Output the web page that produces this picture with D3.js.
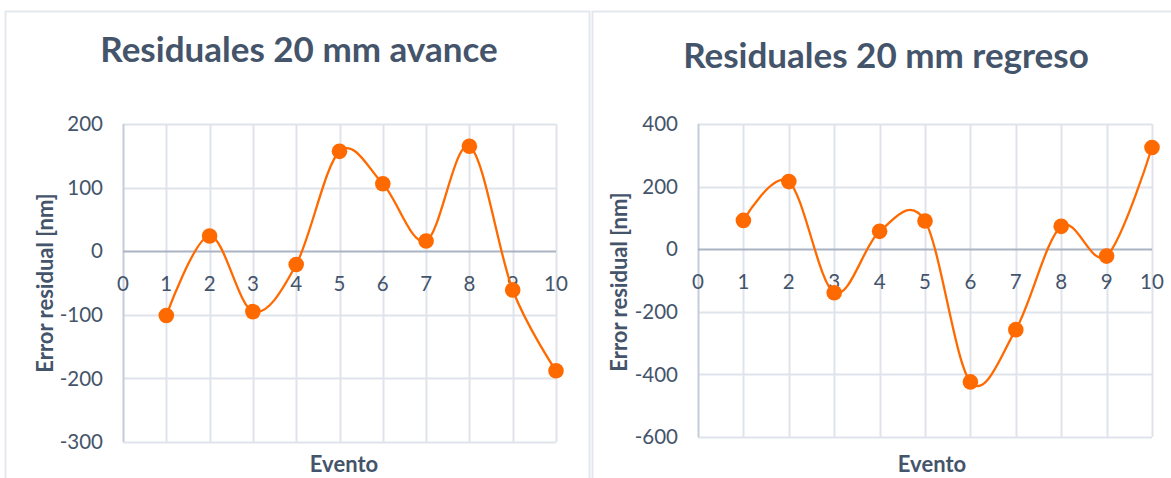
<!DOCTYPE html>
<html>
<head>
<meta charset="utf-8">
<script src="https://cdn.jsdelivr.net/npm/d3@7"></script>
<style>
  html, body { margin: 0; padding: 0; background: #ffffff; }
  svg { display: block; }
</style>
</head>
<body>
<svg id="chart" width="1171" height="478"></svg>
<script>
// ---- Data ----
const eventos = [1, 2, 3, 4, 5, 6, 7, 8, 9, 10];
const xTicks = [0, 1, 2, 3, 4, 5, 6, 7, 8, 9, 10];

const avanceTitle = "Residuales 20 mm avance";
const avanceValues = [-101, 24, -95, -21, 157, 106, 16, 165, -61, -188];
const avanceYTicks = [-300, -200, -100, 0, 100, 200];

const regresoTitle = "Residuales 20 mm regreso";
const regresoValues = [92, 216, -139, 57, 90, -424, -257, 73, -22, 325];
const regresoYTicks = [-600, -400, -200, 0, 200, 400];

const xAxisTitle = "Evento";
const yAxisTitle = "Error residual [nm]";

// ---- Styles ----
const textColor = "#44546a";
const gridColor = "#dfe4ec";
const zeroColor = "#aab4c3";
const lineColor = "#ff6a00";
const panelBorder = "#e3e8ef";
const fontFamily = "Lato, 'Open Sans', sans-serif";

const svg = d3.select("#chart");

function drawChart(cfg) {
  const g = svg.append("g");

  // panel
  g.append("rect")
    .attr("x", cfg.panel[0] + 0.5).attr("y", cfg.panel[1] + 0.5)
    .attr("width", cfg.panel[2]).attr("height", cfg.panel[3])
    .attr("fill", "#fff").attr("stroke", panelBorder).attr("stroke-width", 2);

  const x = d3.scaleLinear().domain([0, 10]).range([cfg.plot.left, cfg.plot.right]);
  const y = d3.scaleLinear().domain([cfg.yTicks[0], cfg.yTicks[cfg.yTicks.length - 1]])
    .range([cfg.plot.bottom, cfg.plot.top]);

  // horizontal grid
  g.append("g").selectAll("line").data(cfg.yTicks.filter(d => d !== 0)).join("line")
    .attr("x1", x(0)).attr("x2", x(10))
    .attr("y1", d => Math.round(y(d)) + 0.5).attr("y2", d => Math.round(y(d)) + 0.5)
    .attr("stroke", gridColor).attr("stroke-width", 2);

  // vertical grid
  g.append("g").selectAll("line").data(xTicks).join("line")
    .attr("x1", d => Math.round(x(d)) + 0.5).attr("x2", d => Math.round(x(d)) + 0.5)
    .attr("y1", y.range()[1]).attr("y2", y.range()[0])
    .attr("stroke", d => d === 0 ? "#c3ccd9" : gridColor).attr("stroke-width", 2);

  // zero line (x axis)
  g.append("line")
    .attr("x1", x(0)).attr("x2", x(10))
    .attr("y1", Math.round(y(0)) + 0.5).attr("y2", Math.round(y(0)) + 0.5)
    .attr("stroke", zeroColor).attr("stroke-width", 2);

  // y tick labels
  g.append("g").selectAll("text").data(cfg.yTicks).join("text")
    .attr("x", x(0) - 20).attr("y", d => y(d))
    .attr("dy", "0.35em")
    .attr("text-anchor", "end")
    .attr("fill", textColor)
    .attr("font-family", fontFamily).attr("font-size", 20.5)
    .text(d => d);

  // x tick labels (placed beside zero axis)
  g.append("g").selectAll("text").data(xTicks).join("text")
    .attr("x", d => x(d)).attr("y", y(0) + 33)
    .attr("dy", "0.35em")
    .attr("text-anchor", "middle")
    .attr("fill", textColor)
    .attr("font-family", fontFamily).attr("font-size", 20.5)
    .text(d => d);

  // smooth line
  const pts = eventos.map((e, i) => [e, cfg.values[i]]);
  const line = d3.line().x(d => x(d[0])).y(d => y(d[1])).curve(d3.curveCardinal.tension(0));
  g.append("path").datum(pts)
    .attr("d", line).attr("fill", "none")
    .attr("stroke", lineColor).attr("stroke-width", 2.3);

  // markers
  g.append("g").selectAll("circle").data(pts).join("circle")
    .attr("cx", d => x(d[0])).attr("cy", d => y(d[1])).attr("r", 7.8)
    .attr("fill", lineColor);

  // title
  g.append("text")
    .attr("x", cfg.titlePos[0]).attr("y", cfg.titlePos[1])
    .attr("text-anchor", "middle")
    .attr("fill", textColor)
    .attr("font-family", fontFamily).attr("font-weight", 700).attr("font-size", 35)
    .text(cfg.title);

  // axis titles
  g.append("text")
    .attr("x", cfg.xTitlePos[0]).attr("y", cfg.xTitlePos[1])
    .attr("text-anchor", "middle")
    .attr("fill", textColor)
    .attr("font-family", fontFamily).attr("font-weight", 700).attr("font-size", 22)
    .text(xAxisTitle);

  g.append("text")
    .attr("transform", `translate(${cfg.yTitlePos[0]},${cfg.yTitlePos[1]}) rotate(-90)`)
    .attr("text-anchor", "middle")
    .attr("fill", textColor)
    .attr("font-family", fontFamily).attr("font-weight", 700).attr("font-size", 22)
    .text(yAxisTitle);
}

drawChart({
  panel: [5, 11, 584, 480],
  plot: { left: 123, right: 556, top: 124, bottom: 442 },
  yTicks: avanceYTicks,
  values: avanceValues,
  title: avanceTitle,
  titlePos: [299, 62],
  xTitlePos: [344, 472],
  yTitlePos: [53, 283]
});

drawChart({
  panel: [592, 11, 590, 480],
  plot: { left: 698, right: 1152, top: 124, bottom: 437 },
  yTicks: regresoYTicks,
  values: regresoValues,
  title: regresoTitle,
  titlePos: [886, 68],
  xTitlePos: [932, 472],
  yTitlePos: [627, 282]
});
</script>
</body>
</html>
